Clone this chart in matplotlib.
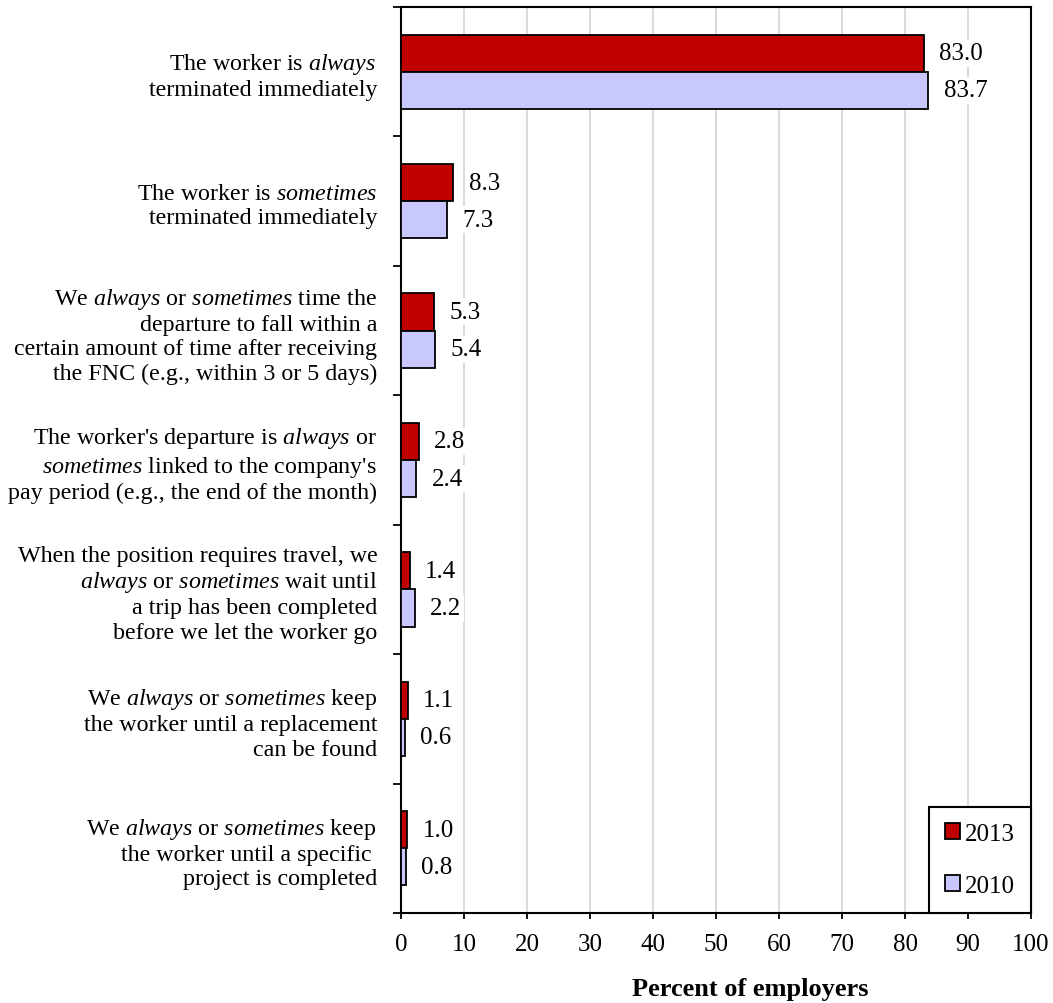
import matplotlib
matplotlib.use('Agg')
import matplotlib.pyplot as plt
from matplotlib.patches import Patch
import numpy as np

plt.rcParams['font.family'] = ['Liberation Serif', 'DejaVu Serif']
plt.rcParams['mathtext.fontset'] = 'custom'
plt.rcParams['mathtext.rm'] = 'Liberation Serif'
plt.rcParams['mathtext.it'] = 'Liberation Serif:italic'

# 数据
categories = [
    "The worker is $\\mathit{always}$ \nterminated immediately",
    "The worker is $\\mathit{sometimes}$\nterminated immediately",
    "We $\\mathit{always}$ or $\\mathit{sometimes}$ time the\ndeparture to fall within a\n"
    "certain amount of time after receiving\nthe FNC (e.g., within 3 or 5 days)",
    "The worker's departure is $\\mathit{always}$ or\n$\\mathit{sometimes}$ linked to the company's \n"
    "pay period (e.g., the end of the month)",
    "When the position requires travel, we\n$\\mathit{always}$ or $\\mathit{sometimes}$ wait until\n"
    "a trip has been completed\nbefore we let the worker go",
    "We $\\mathit{always}$ or $\\mathit{sometimes}$ keep\nthe worker until a replacement\ncan be found",
    "We $\\mathit{always}$ or $\\mathit{sometimes}$ keep \nthe worker until a specific \nproject is completed",
]
v2013 = [83.0, 8.3, 5.3, 2.8, 1.4, 1.1, 1.0]
v2010 = [83.7, 7.3, 5.4, 2.4, 2.2, 0.6, 0.8]

fig = plt.figure(figsize=(10.53, 10.04), dpi=100)
ax = fig.add_axes([401/1053, 1-914/1004, 630/1053, 906/1004])

y = np.arange(len(categories))
h = 0.287
ax.barh(y - h/2, v2013, height=h, color='#C00000', edgecolor='black', linewidth=1.3, zorder=3)
ax.barh(y + h/2, v2010, height=h, color='#C8C8FF', edgecolor='black', linewidth=1.3, zorder=3)

# 数值标签
for yi, a, b in zip(y, v2013, v2010):
    ax.annotate(f"{a:.1f}", (a, yi - h/2), xytext=(11, 0), textcoords='offset points',
                ha='left', va='center', fontsize=18, zorder=4,
                bbox=dict(boxstyle='square,pad=0.1', fc='white', ec='none'))
    ax.annotate(f"{b:.1f}", (b, yi + h/2), xytext=(11, 0), textcoords='offset points',
                ha='left', va='center', fontsize=18, zorder=4,
                bbox=dict(boxstyle='square,pad=0.1', fc='white', ec='none'))

ax.set_xlim(0, 100)
ax.set_ylim(len(categories) - 0.5, -0.5)
ax.set_xticks(np.arange(0, 101, 10))
ax.tick_params(axis='x', labelsize=18, length=4.5, width=1.3, pad=10, direction='out')

ax.set_yticks(y)
ax.set_yticklabels(categories, fontsize=17.3, linespacing=1.2, multialignment='right')
ax.set_yticks(np.arange(-0.5, len(categories), 1.0), minor=True)
ax.tick_params(axis='y', which='major', length=0, pad=17)
ax.tick_params(axis='y', which='minor', length=6, width=1.3, direction='out')

ax.grid(axis='x', color='#D9D9D9', linewidth=1.4, zorder=0)
ax.set_axisbelow(True)
for s in ax.spines.values():
    s.set_linewidth(1.5)
    s.set_color('black')

fig.text(750/1053, 1-990/1004, 'Percent of employers', fontsize=19, fontweight='bold',
         ha='center', va='center')

handles = [Patch(facecolor='#C00000', edgecolor='black', linewidth=1.3),
           Patch(facecolor='#C8C8FF', edgecolor='black', linewidth=1.3)]
leg = ax.legend(handles, ['2013', '2010'], loc='lower right', bbox_to_anchor=(1, 0),
                borderaxespad=0, fontsize=18, handlelength=0.6, handleheight=0.6,
                handletextpad=0.2, labelspacing=1.2, borderpad=0.64,
                fancybox=False, framealpha=1, edgecolor='black')
leg.get_frame().set_linewidth(1.5)

fig.savefig('out.png', dpi=100)
